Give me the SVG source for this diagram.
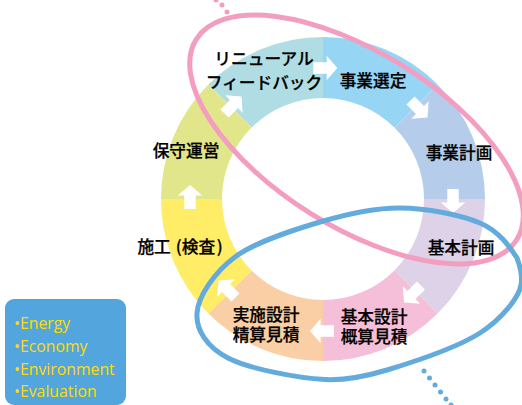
<svg xmlns="http://www.w3.org/2000/svg" width="522" height="405" viewBox="0 0 522 405">
<style>
text{font-family:"Noto Sans CJK JP","Noto Sans",sans-serif;font-size:16.7px;font-weight:500;fill:#000;stroke:#000;stroke-width:.25;text-anchor:middle}
.en{font-family:"Open Sans","Noto Sans",sans-serif;font-size:15.8px;font-weight:400;fill:#FFDC00;stroke:none;text-anchor:start}
.arrow{fill:#fff}
.pink{fill:#F39DC0}
.blue{fill:#63ABDD}
.ring{fill:none;stroke-width:5}
</style>
<defs><polygon id="arrow" class="arrow" points="-12,-5.7 1.4,-5.7 1.4,-12.3 12,0 1.4,12.3 1.4,5.7 -12,5.7"/></defs>
<rect width="522" height="405" fill="#fff"/>
<g id="n-renewal"><path d="M323 37A162 162 0 0 0 208.400 84.500L251.600 127.600A101 101 0 0 1 323 98Z" fill="#B0DDE3"/><text x="264" y="65">リニューアル</text><text x="264" y="89">フィードバック</text></g>
<g id="n-selection"><path d="M323 37A162 162 0 0 1 437.600 84.500L394.400 127.600A101 101 0 0 0 323 98Z" fill="#97D5F5"/><text x="373" y="87">事業選定</text></g>
<g id="n-project-plan"><path d="M437.600 84.500A162 162 0 0 1 485 199H424A101 101 0 0 0 394.400 127.600Z" fill="#B5CDEB"/><text x="459" y="159">事業計画</text></g>
<g id="n-basic-plan"><path d="M485 199A162 162 0 0 1 437.600 313.500L394.400 270.400A101 101 0 0 0 424 199Z" fill="#DDD2E7"/><text x="461" y="254">基本計画</text></g>
<g id="n-basic-design"><path d="M437.600 313.500A162 162 0 0 1 323 361V300A101 101 0 0 0 394.400 270.400Z" fill="#F5BFD9"/><text x="374" y="322.500">基本設計</text><text x="374" y="343">概算見積</text></g>
<g id="n-detail-design"><path d="M323 361A162 162 0 0 1 208.400 313.500L251.600 270.400A101 101 0 0 0 323 300Z" fill="#FACFA5"/><text x="266" y="320.500">実施設計</text><text x="266" y="340.500">精算見積</text></g>
<g id="n-construction"><path d="M208.400 313.500A162 162 0 0 1 161 199H222A101 101 0 0 0 251.600 270.400Z" fill="#FFEC67"/><text x="180" y="253">施工<tspan dx="5">(</tspan>検査<tspan dx="1.500">)</tspan></text></g>
<g id="n-operation"><path d="M161 199A162 162 0 0 1 208.400 84.500L251.600 127.600A101 101 0 0 0 222 199Z" fill="#E2E68A"/><text x="186" y="157">保守運営</text></g>
<g id="connectors">
<use href="#arrow" transform="translate(325.300 68)"/>
<use href="#arrow" transform="translate(419 109) rotate(45)"/>
<use href="#arrow" transform="translate(453 201) rotate(90)"/>
<use href="#arrow" transform="translate(412.500 294) rotate(135)"/>
<use href="#arrow" transform="translate(322 331) rotate(180)"/>
<use href="#arrow" transform="translate(227 289) rotate(225)"/>
<use href="#arrow" transform="translate(190 197) rotate(-90)"/>
<use href="#arrow" transform="translate(233 105) rotate(-45)"/>
</g>
<g id="loop-pink"><ellipse class="ring" cx="356.500" cy="139.500" rx="189" ry="87" transform="rotate(32 356.500 139.500)" stroke="#F39DC0"/>
<circle class="pink" cx="216" cy="0" r="2.500"/><circle class="pink" cx="222" cy="5" r="2.500"/><circle class="pink" cx="227" cy="12" r="2.500"/></g>
<g id="loop-blue"><path class="ring" stroke="#63ABDD" d="M197 313C198.200 296.200 214.500 272.200 235 257C255.500 241.800 292.500 230.200 320 222C347.500 213.800 373.300 207.800 400 208C426.700 208.200 460.500 214.700 480 223C499.500 231.300 510.200 247.700 517 258C520 266 523 275 521 285C519 297 502.300 318.800 480 333C457.700 347.200 412.800 362.200 387 370C366 376.300 346 380.500 325 379.500C298.500 378.200 249.300 369 228 358C206.700 347 195.800 329.800 197 313Z"/>
<circle class="blue" cx="424" cy="371" r="2.500"/><circle class="blue" cx="429.500" cy="378" r="2.500"/><circle class="blue" cx="435" cy="385" r="2.500"/><circle class="blue" cx="440.500" cy="392" r="2.500"/><circle class="blue" cx="446" cy="399" r="2.500"/><circle class="blue" cx="451" cy="405" r="2.500"/></g>
<g id="legend"><rect x="5" y="299" width="121" height="106" rx="9" fill="#53A5DE"/>
<text class="en" x="14" y="329">•Energy</text><text class="en" x="14" y="352">•Economy</text><text class="en" x="14" y="375">•Environment</text><text class="en" x="14" y="397">•Evaluation</text></g>
</svg>
